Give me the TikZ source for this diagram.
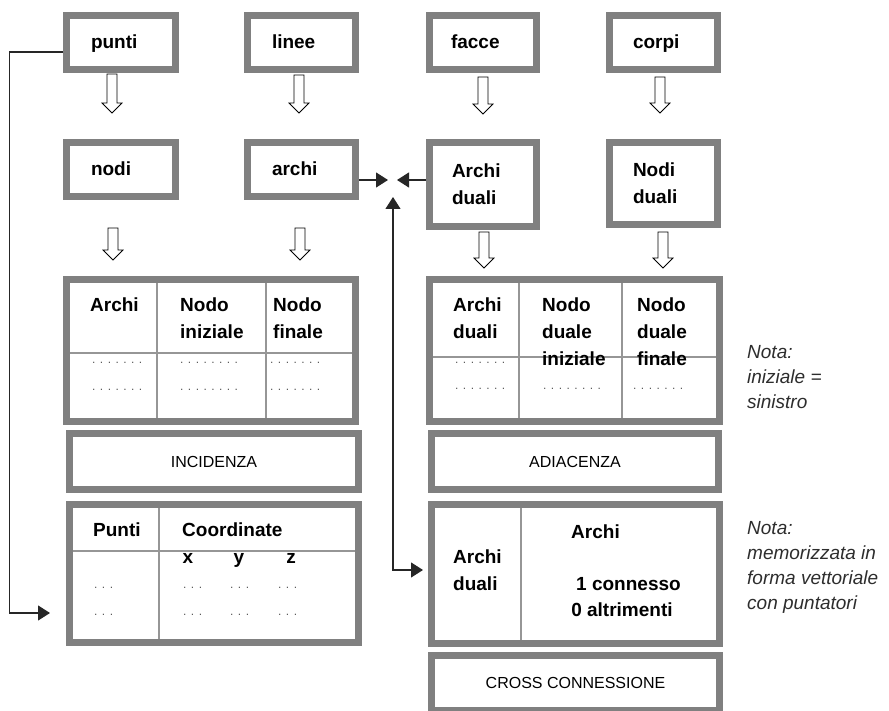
\documentclass[tikz,border=0pt]{standalone}
\usepackage{fontspec}
\setmainfont{Liberation Sans}
\usetikzlibrary{arrows.meta}
\definecolor{boxgray}{RGB}{128,128,128}
\definecolor{linegray}{RGB}{150,150,150}
\definecolor{notegray}{RGB}{45,45,45}
\newcommand\hollowarrow[3]{%
  \draw[harr] ({#1-5},#2) -- ({#1-5},{#3-10}) -- ({#1-10},{#3-10}) -- (#1,#3)
    -- ({#1+10},{#3-10}) -- ({#1+5},{#3-10}) -- ({#1+5},#2) -- cycle;}
\begin{document}
\begin{tikzpicture}[x=1pt,y=-1pt,
  bx/.style={draw=boxgray, line width=7pt, fill=white, rectangle, align=left,
    inner ysep=0pt, font=\fontsize{19}{27}\selectfont\bfseries},
  oneline/.style={text height=12pt, text depth=0pt},
  frame/.style={draw=boxgray, line width=7pt, rectangle, inner sep=0pt},
  gridline/.style={draw=linegray, line width=1.5pt},
  lbl/.style={font=\fontsize{19}{27}\selectfont\bfseries, align=left, inner sep=0pt, anchor=west},
  capt/.style={font=\fontsize{16}{16}\selectfont},
  dots/.style={font=\fontsize{12}{12}\selectfont, text=black!65, inner sep=0pt, anchor=west},
  note/.style={font=\fontsize{19}{25}\selectfont\itshape, text=notegray, align=left,
    inner sep=0pt, anchor=north west},
  harr/.style={draw=black, line width=0.8pt, fill=white, line join=miter},
  conn/.style={draw=black!85, line width=1.2pt},
  tip/.style={-{Triangle[length=12pt,width=15pt]}},
]
\useasboundingbox (0,0) rectangle (889,711);

% ---- top boxes
\node[bx, oneline, minimum width=109, minimum height=54, inner xsep=24.5, text width=60] (punti) at (121,42.5) {punti};
\node[bx, oneline, minimum width=108, minimum height=54, inner xsep=24.5, text width=59] (linee) at (301.5,42.5) {linee};
\node[bx, oneline, minimum width=107, minimum height=54, inner xsep=21.5, text width=64] (facce) at (483,42.5) {facce};
\node[bx, oneline, minimum width=108, minimum height=54, inner xsep=23.5, text width=61] (corpi) at (663.5,42.5) {corpi};

% ---- second row
\node[bx, oneline, minimum width=109, minimum height=54, inner xsep=24.5, text width=60] (nodi) at (121,169.5) {nodi};
\node[bx, oneline, minimum width=108, minimum height=54, inner xsep=24.5, text width=59] (archi) at (301.5,169.5) {archi};
\node[bx, minimum width=107, minimum height=84, inner xsep=22.5, text width=62] (archid) at (483,184.5) {Archi\\duali};
\node[bx, minimum width=108, minimum height=82, inner xsep=23.5, text width=61] (nodid) at (663.5,183.5) {Nodi\\duali};

% ---- hollow arrows
\hollowarrow{112}{74}{113}
\hollowarrow{299}{75}{113}
\hollowarrow{483}{77}{114}
\hollowarrow{660}{77}{113}
\hollowarrow{113}{228}{260}
\hollowarrow{300}{228}{260}
\hollowarrow{484}{232}{268}
\hollowarrow{663}{232}{268}

% ---- incidence table
\node[frame, minimum width=289, minimum height=142] (inctab) at (211,350.5) {};
\draw[gridline] (157,283) -- (157,418);
\draw[gridline] (266,283) -- (266,418);
\draw[gridline] (70,353) -- (352,353);
\node[lbl] (iA) at (90,305) {Archi};
\node[lbl] (iNi) at (180,318.5) {Nodo\\iniziale};
\node[lbl] (iNf) at (273,318.5) {Nodo\\finale};
\node[dots] (id1) at (92,363) {. . . . . . .};
\node[dots] (id2) at (92,390) {. . . . . . .};
\node[dots] (id3) at (180,363) {. . . . . . . .};
\node[dots] (id4) at (180,390) {. . . . . . . .};
\node[dots] (id5) at (270,363) {. . . . . . .};
\node[dots] (id6) at (270,390) {. . . . . . .};
\node[frame, capt, minimum width=289, minimum height=56] (incid) at (214,461.5) {INCIDENZA};

% ---- adjacency table
\node[frame, minimum width=290, minimum height=142] (adjtab) at (574.5,350.5) {};
\draw[gridline] (519,283) -- (519,418);
\draw[gridline] (622,283) -- (622,418);
\draw[gridline] (433,357) -- (716,357);
\node[lbl] (aA) at (453,318.5) {Archi\\duali};
\node[lbl] (aNi) at (542,331.5) {Nodo\\duale\\iniziale};
\node[lbl] (aNf) at (637,331.5) {Nodo\\duale\\finale};
\node[dots] (ad1) at (455,363) {. . . . . . .};
\node[dots] (ad2) at (455,389) {. . . . . . .};
\node[dots] (ad3) at (543,389) {. . . . . . . .};
\node[dots] (ad4) at (633,389) {. . . . . . .};
\node[frame, capt, minimum width=287, minimum height=56] (adiac) at (575,461.5) {ADIACENZA};

% ---- coordinates table
\node[frame, minimum width=289, minimum height=138] (coortab) at (214,573.5) {};
\draw[gridline] (159,508) -- (159,639);
\draw[gridline] (73,551) -- (355,551);
\node[lbl] (cP) at (93,530) {Punti};
\node[lbl] (cC) at (182,530) {Coordinate};
\node[lbl, anchor=base] (cx) at (188,563) {x};
\node[lbl, anchor=base] (cy) at (239,563) {y};
\node[lbl, anchor=base] (cz) at (291,563) {z};
\node[dots] (cd1) at (94,588) {. . .};
\node[dots] (cd2) at (94,615) {. . .};
\node[dots] (cd3) at (183,588) {. . .};
\node[dots] (cd4) at (183,615) {. . .};
\node[dots] (cd5) at (230,588) {. . .};
\node[dots] (cd6) at (230,615) {. . .};
\node[dots] (cd7) at (278,588) {. . .};
\node[dots] (cd8) at (278,615) {. . .};

% ---- cross table
\node[frame, minimum width=288, minimum height=139] (crosstab) at (575.5,574) {};
\draw[gridline] (521,508) -- (521,640);
\node[lbl, anchor=center] (xA) at (595.5,532) {Archi};
\node[lbl] (xAd) at (453,570) {Archi\\duali};
\node[lbl, anchor=center] (x1) at (628.5,584) {1 connesso};
\node[lbl, anchor=center] (x0) at (622,610) {0 altrimenti};
\node[frame, capt, minimum width=288, minimum height=55] (cross) at (575.5,683) {CROSS CONNESSIONE};

% ---- notes
\node[note] (nota1) at (747,345) {Nota:\\iniziale =\\sinistro};
\node[note] (nota2) at (747,521) {Nota:\\memorizzata in\\forma vettoriale\\con puntatori};

% ---- connectors
\coordinate (pin) at (50,613);
\coordinate (mL) at (388,180);
\coordinate (mR) at (397,180);
\coordinate (mU) at (393,197);
\coordinate (cin) at (423,570);
\draw[conn,tip] ([yshift=-9.5pt]punti.west) -- ++(-53.5,0) |- (pin);
\draw[conn,tip] ([yshift=-10.5pt]archi.east) -- (mL);
\draw[conn,tip] ([yshift=4.5pt]archid.west) -- (mR);
\draw[conn,{Triangle[length=12pt,width=15pt]}-{Triangle[length=12pt,width=15pt]}] (mU) |- (cin);
\end{tikzpicture}
\end{document}
